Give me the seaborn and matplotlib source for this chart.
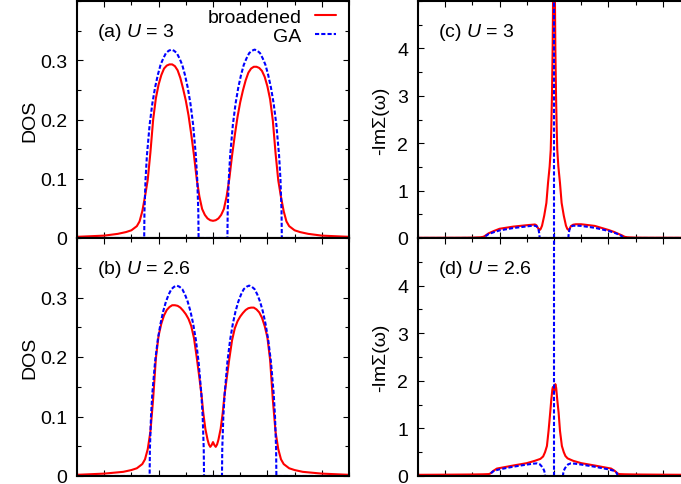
import numpy as np
import pandas as pd
import matplotlib
matplotlib.use("Agg")
import matplotlib.pyplot as plt
from matplotlib.lines import Line2D
from matplotlib.ticker import MultipleLocator, NullFormatter
import seaborn as sns

# ---------------- data ----------------
# (a) U = 3 : DOS
a_br_x = [-5, -4.5, -4, -3.5, -3.2, -3.0, -2.8, -2.7, -2.6, -2.5, -2.4, -2.3, -2.2, -2.1, -2.0,
          -1.9, -1.8, -1.7, -1.6, -1.5, -1.4, -1.3, -1.2, -1.1, -1.0, -0.9, -0.8, -0.7, -0.6,
          -0.5, -0.4, -0.3, -0.2, -0.1, 0.0,
          0.1, 0.2, 0.3, 0.4, 0.5, 0.6, 0.7, 0.8, 0.9, 1.0, 1.1, 1.2, 1.3, 1.4, 1.5, 1.6, 1.7,
          1.8, 1.9, 2.0, 2.1, 2.2, 2.3, 2.4, 2.5, 2.6, 2.7, 2.8, 3.0, 3.2, 3.5, 4.0, 4.5, 5.0]
a_br_y = [0.002, 0.003, 0.004, 0.007, 0.010, 0.013, 0.020, 0.028, 0.045, 0.070, 0.098, 0.145,
          0.200, 0.236, 0.259, 0.275, 0.286, 0.291, 0.293, 0.293, 0.290, 0.283, 0.270, 0.252,
          0.232, 0.207, 0.175, 0.140, 0.100, 0.070, 0.049, 0.039, 0.033, 0.030, 0.029,
          0.030, 0.033, 0.039, 0.049, 0.070, 0.100, 0.139, 0.173, 0.204, 0.229, 0.249, 0.266,
          0.279, 0.286, 0.289, 0.289, 0.287, 0.282, 0.272, 0.256, 0.234, 0.198, 0.143, 0.097,
          0.069, 0.045, 0.028, 0.020, 0.013, 0.010, 0.007, 0.004, 0.003, 0.002]
a_ga_x = [-5, -2.53, -2.52, -2.48, -2.43, -2.33, -2.23, -2.13, -2.03, -1.93, -1.83, -1.73, -1.63,
          -1.53, -1.43, -1.33, -1.23, -1.13, -1.03, -0.93, -0.83, -0.73, -0.63, -0.58, -0.54,
          -0.53, 0.53, 0.54, 0.58, 0.63, 0.73, 0.83, 0.93, 1.03, 1.13, 1.23, 1.33, 1.43, 1.53,
          1.63, 1.73, 1.83, 1.93, 2.03, 2.13, 2.23, 2.33, 2.43, 2.48, 2.52, 2.53, 5]
a_ga_y = [0, 0, 0.045, 0.099, 0.139, 0.191, 0.227, 0.254, 0.275, 0.292, 0.303, 0.312, 0.316,
          0.318, 0.316, 0.312, 0.303, 0.292, 0.275, 0.254, 0.227, 0.191, 0.139, 0.099, 0.045,
          0, 0, 0.045, 0.099, 0.139, 0.191, 0.227, 0.254, 0.275, 0.292, 0.303, 0.312, 0.316,
          0.318, 0.316, 0.312, 0.303, 0.292, 0.275, 0.254, 0.227, 0.191, 0.139, 0.099, 0.045,
          0, 0]

# (b) U = 2.6 : DOS
b_br_x = [-5, -4, -3.3, -3.0, -2.8, -2.6, -2.5, -2.4, -2.3, -2.2, -2.1, -2.0, -1.9, -1.8, -1.7,
          -1.6, -1.5, -1.4, -1.3, -1.2, -1.1, -1.0, -0.9, -0.8, -0.7, -0.6, -0.5, -0.42, -0.36,
          -0.28, -0.2, -0.15, -0.1, -0.05, 0.0,
          0.05, 0.1, 0.15, 0.2, 0.28, 0.36, 0.42, 0.5, 0.6, 0.7, 0.8, 0.9, 1.0, 1.1, 1.2, 1.3,
          1.4, 1.5, 1.6, 1.7, 1.8, 1.9, 2.0, 2.1, 2.2, 2.3, 2.4, 2.5, 2.6, 2.8, 3.0, 3.3, 4.0, 5.0]
b_br_y = [0.002, 0.004, 0.007, 0.010, 0.013, 0.020, 0.028, 0.045, 0.075, 0.130, 0.198, 0.236,
          0.256, 0.270, 0.279, 0.284, 0.287, 0.287, 0.286, 0.283, 0.278, 0.272, 0.264, 0.252,
          0.232, 0.200, 0.165, 0.135, 0.107, 0.079, 0.061, 0.053, 0.049, 0.052, 0.057,
          0.052, 0.049, 0.053, 0.061, 0.079, 0.107, 0.135, 0.163, 0.197, 0.228, 0.248, 0.260,
          0.268, 0.274, 0.279, 0.282, 0.283, 0.283, 0.280, 0.275, 0.266, 0.252, 0.233, 0.195,
          0.128, 0.074, 0.045, 0.028, 0.020, 0.013, 0.010, 0.007, 0.004, 0.002]
b_ga_x = [-5, -2.33, -2.32, -2.28, -2.23, -2.13, -2.03, -1.93, -1.83, -1.73, -1.63, -1.53, -1.43,
          -1.33, -1.23, -1.13, -1.03, -0.93, -0.83, -0.73, -0.63, -0.53, -0.43, -0.38, -0.34,
          -0.33, 0.33, 0.34, 0.38, 0.43, 0.53, 0.63, 0.73, 0.83, 0.93, 1.03, 1.13, 1.23, 1.33,
          1.43, 1.53, 1.63, 1.73, 1.83, 1.93, 2.03, 2.13, 2.23, 2.28, 2.32, 2.33, 5]
b_ga_y = [0, 0, 0.045, 0.100, 0.139, 0.192, 0.229, 0.256, 0.277, 0.293, 0.305, 0.314, 0.318,
          0.320, 0.318, 0.314, 0.305, 0.293, 0.277, 0.256, 0.229, 0.192, 0.139, 0.100, 0.045,
          0, 0, 0.045, 0.100, 0.139, 0.192, 0.229, 0.256, 0.277, 0.293, 0.305, 0.314, 0.318,
          0.320, 0.318, 0.314, 0.305, 0.293, 0.277, 0.256, 0.229, 0.192, 0.139, 0.100, 0.045,
          0, 0]

# (c) U = 3 : -Im Sigma
c_br_x = [-5, -3.5, -3.0, -2.7, -2.6, -2.55, -2.5, -2.4, -2.2, -2.0, -1.5, -1.0, -0.8, -0.7,
          -0.65, -0.6, -0.56, -0.53, -0.49, -0.44, -0.36, -0.28, -0.22, -0.16, -0.12, -0.1,
          -0.075, -0.05, -0.035, 0.0, 0.035, 0.05, 0.075, 0.1, 0.12, 0.16, 0.22, 0.28, 0.36,
          0.44, 0.49, 0.54, 0.58, 0.62, 0.7, 0.8, 1.0, 1.5, 2.0, 2.2, 2.4, 2.5, 2.55, 2.6, 2.7,
          3.0, 3.5, 5]
c_br_y = [0.005, 0.006, 0.008, 0.015, 0.025, 0.04, 0.06, 0.1, 0.15, 0.195, 0.24, 0.27, 0.28,
          0.285, 0.27, 0.22, 0.185, 0.167, 0.19, 0.26, 0.47, 0.74, 1.16, 1.51, 1.86, 2.3, 3.0,
          4.0, 5.0, 12.0, 5.0, 4.0, 3.0, 2.3, 1.86, 1.51, 1.16, 0.74, 0.47, 0.26, 0.19, 0.167,
          0.2, 0.25, 0.28, 0.29, 0.29, 0.255, 0.17, 0.13, 0.08, 0.055, 0.04, 0.025, 0.015, 0.008,
          0.006, 0.005]
c_ga_x = [-5, -2.53, -2.5, -2.4, -2.2, -2.0, -1.5, -1.0, -0.8, -0.7, -0.64, -0.6, -0.57, -0.55,
          -0.535, -0.53, 0.53, 0.535, 0.55, 0.57, 0.6, 0.64, 0.7, 0.85, 1.0, 1.5, 2.0, 2.2, 2.4,
          2.5, 2.53, 5]
c_ga_y = [0, 0, 0.045, 0.085, 0.125, 0.16, 0.21, 0.245, 0.258, 0.258, 0.245, 0.22, 0.18, 0.12,
          0.06, 0, 0, 0.06, 0.12, 0.18, 0.22, 0.245, 0.258, 0.26, 0.255, 0.215, 0.15, 0.115, 0.07,
          0.035, 0, 0]
c_ga_pole_x = [0.0, 0.0]
c_ga_pole_y = [0.0, 6.0]

# (d) U = 2.6 : -Im Sigma
d_br_x = [-5, -4, -3, -2.6, -2.4, -2.35, -2.3, -2.25, -2.1, -1.5, -1.0, -0.7, -0.5, -0.4, -0.33,
          -0.26, -0.2, -0.14, -0.1, -0.06, -0.04, -0.02, 0.0, 0.02, 0.05, 0.08, 0.12, 0.17, 0.22,
          0.29, 0.36, 0.42, 0.5, 0.7, 1.0, 1.5, 2.1, 2.25, 2.3, 2.35, 2.4, 2.6, 3, 4, 5]
d_br_y = [0.025, 0.028, 0.032, 0.036, 0.04, 0.05, 0.07, 0.1, 0.156, 0.22, 0.27, 0.32, 0.36, 0.41,
          0.5, 0.63, 0.95, 1.33, 1.6, 1.82, 1.87, 1.8, 1.75, 1.85, 1.93, 1.85, 1.6, 1.33, 0.95,
          0.63, 0.5, 0.42, 0.37, 0.32, 0.27, 0.22, 0.156, 0.1, 0.07, 0.05, 0.04, 0.036, 0.032,
          0.028, 0.025]
d_ga_x = [-5, -2.34, -2.32, -2.3, -2.2, -2.0, -1.5, -1.0, -0.75, -0.62, -0.52, -0.45, -0.4,
          -0.36, -0.34, -0.33, 0.33, 0.34, 0.36, 0.4, 0.45, 0.52, 0.62, 0.75, 1.0, 1.5, 2.0, 2.2,
          2.3, 2.32, 2.34, 5]
d_ga_y = [0, 0, 0.04, 0.07, 0.11, 0.14, 0.195, 0.24, 0.26, 0.265, 0.245, 0.2, 0.16, 0.11, 0.06,
          0, 0, 0.06, 0.11, 0.16, 0.2, 0.245, 0.265, 0.26, 0.24, 0.195, 0.14, 0.11, 0.07, 0.04,
          0, 0]
d_ga_pole_x = [0.0, 0.0]
d_ga_pole_y = [0.0, 6.0]

panel_labels = ["(a) $U$ = 3", "(b) $U$ = 2.6", "(c) $U$ = 3", "(d) $U$ = 2.6"]
legend_labels = ["broadened", "GA"]
ylabel_dos = "DOS"
ylabel_sig = "-ImΣ(ω)"

# ---------------- style ----------------
sns.set_style("ticks")
plt.rcParams["font.family"] = ["Liberation Sans", "DejaVu Sans"]
plt.rcParams["mathtext.fontset"] = "custom"
plt.rcParams["mathtext.rm"] = "Liberation Sans"
plt.rcParams["mathtext.it"] = "Liberation Sans:italic"
plt.rcParams["text.color"] = "black"
plt.rcParams["axes.labelcolor"] = "black"
plt.rcParams["xtick.color"] = "black"
plt.rcParams["ytick.color"] = "black"

FS = 14
RED = "#ff0000"
BLUE = "#0000ff"
LW = 1.5
DASH = (0, (2.0, 1.0))

W, H = 681, 485
fig = plt.figure(figsize=(W / 100, H / 100), dpi=100)


def box(x0, y0, x1, y1):
    return [x0 / W, (H - y1) / H, (x1 - x0) / W, (y1 - y0) / H]


ax_a = fig.add_axes(box(77, 2, 349, 239))
ax_b = fig.add_axes(box(77, 239, 349, 477))
ax_c = fig.add_axes(box(418, 2, 690, 239))
ax_d = fig.add_axes(box(418, 239, 690, 477))


def ga_frame(segments):
    xs, ys, us = [], [], []
    for k, (sx, sy) in enumerate(segments):
        xs += list(sx)
        ys += list(sy)
        us += [k] * len(sx)
    return pd.DataFrame({"w": xs, "v": ys, "seg": us})


def draw(ax, bx, by, ga_segments):
    df_br = pd.DataFrame({"w": bx, "v": by})
    sns.lineplot(data=df_br, x="w", y="v", ax=ax, color=RED, lw=LW,
                 estimator=None, sort=False, zorder=3)
    df_ga = ga_frame(ga_segments)
    sns.lineplot(data=df_ga, x="w", y="v", units="seg", ax=ax, color=BLUE, lw=LW,
                 estimator=None, sort=False, linestyle=DASH, zorder=4)


draw(ax_a, a_br_x, a_br_y, [(a_ga_x, a_ga_y)])
draw(ax_b, b_br_x, b_br_y, [(b_ga_x, b_ga_y)])
draw(ax_c, c_br_x, c_br_y, [(c_ga_x, c_ga_y), (c_ga_pole_x, c_ga_pole_y)])
draw(ax_d, d_br_x, d_br_y, [(d_ga_x, d_ga_y), (d_ga_pole_x, d_ga_pole_y)])

for ax, lab in zip([ax_a, ax_b, ax_c, ax_d], panel_labels):
    ax.set_xlim(-5, 5)
    ax.xaxis.set_major_locator(MultipleLocator(2))
    ax.xaxis.set_minor_locator(MultipleLocator(1))
    ax.xaxis.set_major_formatter(NullFormatter())
    ax.set_xlabel("")
    ax.tick_params(which="both", direction="in", top=True, right=True,
                   labelsize=FS, width=0.8, pad=7, labelbottom=False)
    ax.tick_params(which="major", length=4.5)
    ax.tick_params(which="minor", length=2.6)
    for s in ax.spines.values():
        s.set_linewidth(1.5)
        s.set_color("black")
        s.set_zorder(5)
    ax.text(0.072, 0.873, lab, transform=ax.transAxes, fontsize=FS,
            ha="left", va="center")

for ax in [ax_a, ax_b]:
    ax.set_ylim(0, 0.4)
    ax.set_yticks([0, 0.1, 0.2, 0.3])
    ax.set_yticklabels(["0", "0.1", "0.2", "0.3"])
    ax.yaxis.set_minor_locator(MultipleLocator(0.05))
    ax.set_ylabel(ylabel_dos, fontsize=FS, labelpad=1)

for ax in [ax_c, ax_d]:
    ax.set_ylim(0, 5)
    ax.set_yticks([0, 1, 2, 3, 4])
    ax.set_yticklabels(["0", "1", "2", "3", "4"])
    ax.yaxis.set_minor_locator(MultipleLocator(0.5))
    ax.set_ylabel(ylabel_sig, fontsize=FS, labelpad=6)

handles = [Line2D([], [], color=RED, lw=LW),
           Line2D([], [], color=BLUE, lw=LW, linestyle=DASH)]
ax_a.legend(handles, legend_labels, loc="upper right", bbox_to_anchor=(0.965, 0.985),
            frameon=False, markerfirst=False, fontsize=FS, handlelength=1.05,
            handletextpad=0.7, labelspacing=0.05, borderpad=0.2, borderaxespad=0)

fig.savefig("out.png", dpi=100)
